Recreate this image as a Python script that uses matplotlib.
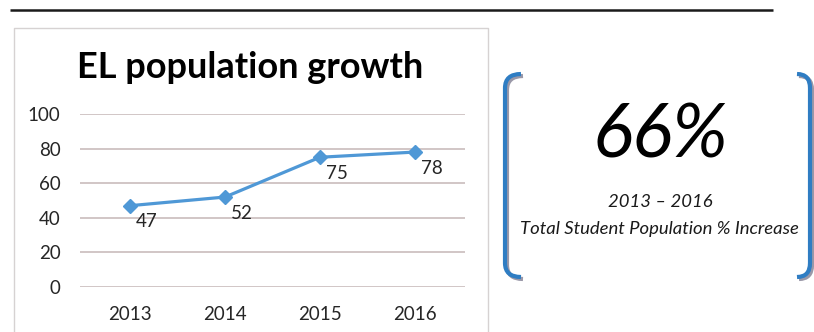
import matplotlib.pyplot as plt
from matplotlib.path import Path
from matplotlib.patches import PathPatch

# chart data
years = ['2013', '2014', '2015', '2016']
el_population = [47, 52, 75, 78]
y_ticks = [0, 20, 40, 60, 80, 100]

# callout text
big_number = '66%'
sub_line1 = '2013 \u2013 2016'
sub_line2 = 'Total Student Population % Increase'

plt.rcParams['font.family'] = ['Lato', 'DejaVu Sans']

W, H = 814, 332
fig = plt.figure(figsize=(W / 100, H / 100), dpi=100)

# overlay in pixel coords for the decorations
deco = fig.add_axes([0, 0, 1, 1])
deco.set_xlim(0, W)
deco.set_ylim(H, 0)
deco.axis('off')

# top rule
deco.plot([10, 773], [10, 10], color='#1a1a1a', lw=1.8, solid_capstyle='butt')
# chart frame
deco.plot([14, 14, 488, 488], [H, 28, 28, H], color='#d6d2d2', lw=1.0)

# brackets
def bracket(x_line, x_end, y_top, y_bot, r, color, dx=0, dy=0):
    verts = [(x_end + dx, y_top + dy), (x_line + dx, y_top + dy), (x_line + dx, y_top + r + dy),
             (x_line + dx, y_bot - r + dy), (x_line + dx, y_bot + dy), (x_end + dx, y_bot + dy)]
    codes = [Path.MOVETO, Path.CURVE3, Path.CURVE3, Path.LINETO, Path.CURVE3, Path.CURVE3]
    deco.add_patch(PathPatch(Path(verts, codes), fill=False, edgecolor=color, lw=3.0,
                             capstyle='butt'))

for sx, ex in [(505, 521), (810, 797)]:
    bracket(sx, ex, 74, 277, 14, '#9a98a8', dx=2, dy=2)
    bracket(sx, ex, 74, 277, 14, '#2f7dc3')

# callout text
deco.text(660, 136, big_number, fontsize=54, style='italic', ha='center', va='center',
          color='black')
deco.text(660, 202, sub_line1, fontsize=13.3, style='italic', ha='center', va='center',
          color='#1a1a1a')
deco.text(659, 229, sub_line2, fontsize=13.3, style='italic', ha='center', va='center',
          color='#1a1a1a')

# title
deco.text(250, 68, 'EL population growth', fontsize=26, fontweight='bold', ha='center',
          va='center', color='black')

# line chart
ax = fig.add_axes([80 / W, (H - 287) / H, 385 / W, 173 / H])
x = range(len(years))
ax.set_xlim(-0.526, 3.526)
ax.set_ylim(0, 100)
ax.set_yticks(y_ticks)
ax.grid(axis='y', color='#c9bcbc', lw=1.2)
ax.set_axisbelow(True)
ax.plot(x, el_population, color='#4f98d6', lw=2.3, marker='D', markersize=7.5, clip_on=False)
for xi, v in zip(x, el_population):
    ax.annotate(str(v), (xi, v), xytext=(17, -16), textcoords='offset pixels',
                ha='center', va='center', fontsize=13.5, color='#262626')
ax.set_xticks(list(x))
ax.set_xticklabels(years)
for s in ax.spines.values():
    s.set_visible(False)
ax.tick_params(length=0, labelsize=13.5, labelcolor='#262626')
ax.tick_params(axis='x', pad=14)
ax.tick_params(axis='y', pad=14)
ax.patch.set_alpha(0)

fig.savefig('out.png', dpi=100)
plt.close()
